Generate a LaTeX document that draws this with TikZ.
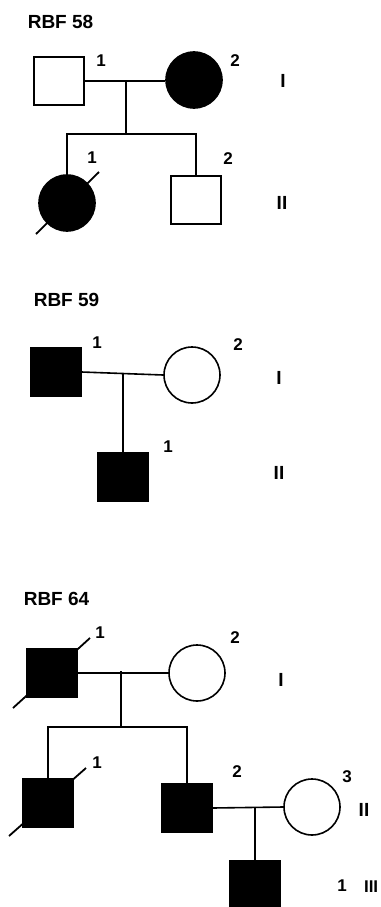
\documentclass[tikz,border=0pt]{standalone}
\usepackage{fontspec}
\setmainfont{Liberation Sans}
\begin{document}
\begin{tikzpicture}[x=1pt,y=-1pt,line width=1.6pt,
  male/.style={draw,rectangle,minimum width=49.5pt,minimum height=48.5pt,inner sep=0pt},
  female/.style={draw,circle,minimum size=56pt,inner sep=0pt},
  aff/.style={fill=black},
  num/.style={font=\bfseries\fontsize{17}{17}\selectfont,inner sep=0pt},
  gen/.style={font=\bfseries\fontsize{19}{19}\selectfont,inner sep=0pt},
  ftitle/.style={font=\bfseries\fontsize{19}{19}\selectfont,inner sep=0pt,anchor=west},
  dead/.style={line width=1.8pt}]
\useasboundingbox (0,0) rectangle (380,907);

% ---------------- RBF 58 ----------------
\node[ftitle] (t58) at (27,22) {RBF 58};
\node[male] (a1) at (59,81) {};
\node[female,aff] (a2) at (194,80) {};
\node[female,aff] (a3) at (67,203) {};
\node[male] (a4) at (196,200) {};
\coordinate (j1) at (126,81);
\coordinate (s1) at (126,134);
\draw (a1.east) -- (a1.east -| a2.west);
\draw (j1) -- (s1);
\draw (a3.north) |- (s1) -| (a4.north);
\draw[dead] (a3.center) ++(-31,31) -- ++(63,-62);
\node[num] (n58a) at (101,61) {1};
\node[num] (n58b) at (235,61) {2};
\node[num] (n58c) at (92,158) {1};
\node[num] (n58d) at (228,159) {2};
\node[gen] (g58a) at (283,81) {I};
\node[gen] (g58b) at (282,203) {II};

% ---------------- RBF 59 ----------------
\node[ftitle] (t59) at (33,300) {RBF 59};
\node[male,aff] (b1) at (56,372) {};
\node[female] (b2) at (192,375) {};
\node[male,aff] (b3) at (123,477) {};
\coordinate (j2) at (123,373);
\draw (b1.east) -- (b2.west);
\draw (j2) -- (b3.north);
\node[num] (n59a) at (97,343) {1};
\node[num] (n59b) at (238,345) {2};
\node[num] (n59c) at (168,447) {1};
\node[gen] (g59a) at (279,378) {I};
\node[gen] (g59b) at (279,473) {II};

% ---------------- RBF 64 ----------------
\node[ftitle] (t64) at (23,599) {RBF 64};
\node[male,aff] (c1) at (52,673) {};
\node[female] (c2) at (197,673) {};
\node[male,aff] (c3) at (48,803) {};
\node[male,aff] (c4) at (187,808) {};
\node[female] (c5) at (312,807) {};
\node[male,aff] (c6) at (255,885) {};
\coordinate (j3) at (121,671);
\coordinate (s3) at (121,727);
\coordinate (j4) at (255,807);
\draw (c1.east) -- (c2.west);
\draw (j3) -- (s3);
\draw (c3.north) |- (s3) -| (c4.north);
\draw (c4.east) -- (c5.west);
\draw (j4) -- (c6.north);
\draw[dead] (c1.center) ++(-39,35) -- ++(77,-70);
\draw[dead] (c3.center) ++(-39,33) -- ++(77,-68);
\node[num] (n64a) at (100,633) {1};
\node[num] (n64b) at (235,638) {2};
\node[num] (n64c) at (97,763) {1};
\node[num] (n64d) at (237,772) {2};
\node[num] (n64e) at (347,777) {3};
\node[num] (n64f) at (342,886) {1};
\node[gen] (g64a) at (281,680) {I};
\node[gen] (g64b) at (364,810) {II};
\node[num,anchor=east] (g64c) at (379,887) {III};
\end{tikzpicture}
\end{document}
